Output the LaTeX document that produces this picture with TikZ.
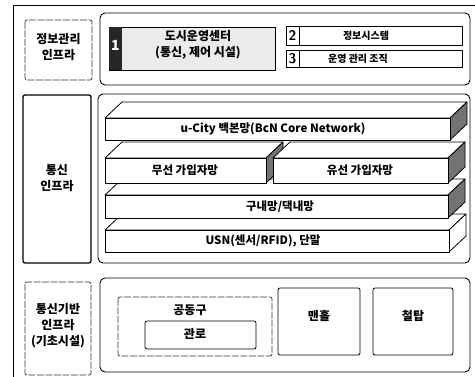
\documentclass[tikz,border=0pt]{standalone}
\usepackage{fontspec}
\setmainfont{Noto Sans CJK KR}
\newcommand\myslab[5]{%
  \filldraw[slabline, fill=white] (#1,#3) -- ++(17,-16) -- (#2+17,#3-16) -- (#2,#3) -- cycle;
  \filldraw[slabline, fill=#5] (#2,#3) -- (#2+17,#3-16) -- (#2+17,#4-16) -- (#2,#4) -- cycle;
  \filldraw[slabline, fill=white] (#1,#3) rectangle (#2,#4);
}
\begin{document}
\begin{tikzpicture}[x=1pt,y=-1pt,
  lbl/.style={font=\bfseries\fontsize{12}{16}\selectfont, align=center, inner sep=0pt},
  slabtxt/.style={font=\bfseries\fontsize{11.5}{14}\selectfont, inner sep=0pt},
  smalltxt/.style={font=\bfseries\fontsize{10}{12}\selectfont, inner sep=0pt},
  numtxt/.style={font=\sffamily\bfseries\fontsize{14}{14}\selectfont, inner sep=0pt},
  bigbox/.style={draw, line width=0.9pt, rounded corners=5pt},
  lightbox/.style={draw, black!80, line width=0.7pt, dash pattern=on 7pt off 1.5pt, rounded corners=2pt},
  boldbox/.style={draw, line width=1.3pt, rounded corners=2pt},
  plainbox/.style={draw, line width=0.8pt, rounded corners=2pt},
  slabline/.style={line width=0.8pt, line join=round},
  frame/.style={line width=0.8pt}]
\useasboundingbox (0,0) rectangle (475,377);

% outer frame
\draw[frame] (13,377) -- (13,5) -- (475,5);

% ---------- left labels ----------
\draw[lightbox] (25,20) rectangle (92,80);
\node[lbl] (infoL) at (58.5,47) {정보관리\\인프라};
\draw[boldbox] (23,95) rectangle (91,263);
\node[lbl] (commL) at (57,178) {통신\\인프라};
\draw[lightbox] (25,282) rectangle (91,375);
\node[lbl] (baseL) at (58,326) {통신기반\\인프라\\(기초시설)};

% ---------- top box ----------
\draw[bigbox] (100,13) rectangle (470,85);
\draw[plainbox, rounded corners=0pt, fill=black!8] (109,27) rectangle (275,70);
\fill[black!85] (109,27) rectangle (122,70);
\node[numtxt, white, font=\bfseries\itshape\fontsize{14}{14}\selectfont] (n1) at (115.5,45) {1};
\node[lbl] (center) at (198,45) {도시운영센터\\(통신, 제어 시설)};

\draw[plainbox, rounded corners=0pt] (286,26) rectangle (462,45);
\draw[line width=0.8pt] (299,26) -- (299,45);
\node[numtxt] (n2) at (292.5,35.5) {2};
\node[smalltxt] (infosys) at (366,35.5) {정보시스템};

\draw[plainbox, rounded corners=0pt] (286,50) rectangle (462,67);
\draw[line width=0.8pt] (299,50) -- (299,67);
\node[numtxt] (n3) at (292.5,58.5) {3};
\node[smalltxt] (org) at (358,58.5) {운영 관리 조직};

% ---------- middle box ----------
\draw[bigbox] (98,94) rectangle (470,263);
\myslab{105}{449}{230}{252}{white}
\myslab{105}{448}{195}{218}{black!55}
\myslab{105}{266}{158}{183}{black!55}
\myslab{273}{448}{158}{183}{black!55}
\myslab{105}{450}{118}{140}{black!55}

\node[slabtxt] (ucity) at (273,129) {u-City 백본망(BcN Core Network)};
\node[slabtxt] (wireless) at (185,170.5) {무선 가입자망};
\node[slabtxt] (wired) at (360,170.5) {유선 가입자망};
\node[slabtxt] (indoor) at (280,206.5) {구내망/댁내망};
\node[slabtxt] (usn) at (263,241) {USN(센서/RFID), 단말};

% ---------- bottom box ----------
\draw[bigbox] (100,278) rectangle (470,372);
\draw[lightbox] (118,297) rectangle (272,356);
\node[lbl] (duct) at (190,310) {공동구};
\draw[plainbox] (145,321) rectangle (256,349);
\node[lbl] (pipe) at (195,334) {관로};
\draw[plainbox] (278,288) rectangle (360,355);
\node[lbl] (manhole) at (319,316) {맨홀};
\draw[plainbox] (373,288) rectangle (453,355);
\node[lbl] (tower) at (413,316) {철탑};
\end{tikzpicture}
\end{document}
